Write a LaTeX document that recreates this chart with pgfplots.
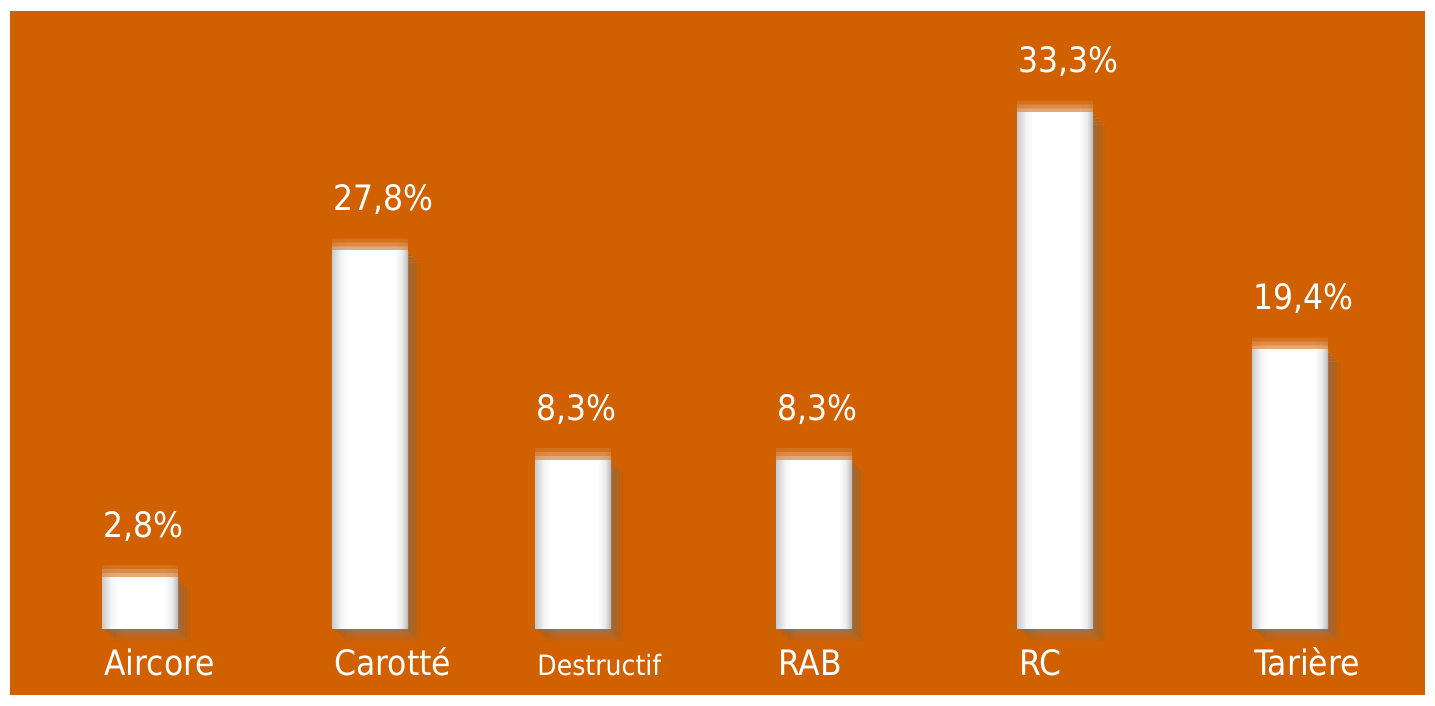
\documentclass[border=0pt]{standalone}
\usepackage{pgfplots}
\pgfplotsset{compat=1.18}
\usepackage{fontspec}
\setmainfont{DejaVu Sans Condensed}
\definecolor{bg}{RGB}{208,96,0}
\pgfdeclarehorizontalshading{bevel}{100bp}{color(0bp)=(black!20); color(25bp)=(black!20); color(31bp)=(black!4); color(36bp)=(white); color(66bp)=(white); color(71bp)=(black!8); color(75bp)=(black!28); color(100bp)=(black!28)}
\pgfplotsset{
  drillbar/.style={ybar, bar width=38pt, bar shift=0pt, draw=none, shading=bevel,
    preaction={fill=white, fill opacity=0.14, transform canvas={yshift=2pt}},
    preaction={fill=white, fill opacity=0.10, transform canvas={yshift=4pt}},
    preaction={fill=white, fill opacity=0.06, transform canvas={yshift=6pt}},
    preaction={fill=black, fill opacity=0.10, transform canvas={xshift=1.5pt, yshift=-1.5pt}},
    preaction={fill=black, fill opacity=0.10, transform canvas={xshift=3pt, yshift=-3pt}},
    preaction={fill=black, fill opacity=0.08, transform canvas={xshift=4.5pt, yshift=-4.5pt}},
    preaction={fill=black, fill opacity=0.05, transform canvas={xshift=6pt, yshift=-6pt}},
    point meta=explicit symbolic,
    nodes near coords,
    every node near coord/.append style={anchor=base west, inner sep=0pt, xshift=-18.5pt, yshift=20pt, text=white, font=\fontsize{17.5}{20}\selectfont}},
}
\begin{document}
\begin{tikzpicture}
\begin{axis}[
  scale only axis,
  width=707.5pt, height=342pt,
  xmin=10, xmax=1425,
  ymin=-4.258, ymax=39.87,
  axis line style={draw=none},
  major tick length=0pt,
  axis background/.style={fill=bg},
  ytick=\empty,
  xtick={140,370,573,814,1055,1290},
  xticklabels={Aircore,Carotté,{\fontsize{14}{16}\selectfont Destructif},RAB,RC,Tarière},
  xticklabel style={anchor=base west, inner sep=0pt, xshift=-18pt, yshift=9.5pt, text=white, font=\fontsize{17.5}{20}\selectfont},
  clip=false,
]
\addplot[drillbar] coordinates {(140,3.35) [{2,8\%}]};
\addplot[drillbar] coordinates {(370,24.39) [{27,8\%}]};
\addplot[drillbar] coordinates {(573,10.90) [{8,3\%}]};
\addplot[drillbar] coordinates {(814,10.90) [{8,3\%}]};
\addplot[drillbar] coordinates {(1055,33.30) [{33,3\%}]};
\addplot[drillbar] coordinates {(1290,18.00) [{19,4\%}]};
\end{axis}
\path (current axis.south west) ++(-5pt,-5.5pt);
\path (current axis.north east) ++(5pt,5.5pt);
\end{tikzpicture}
\end{document}
